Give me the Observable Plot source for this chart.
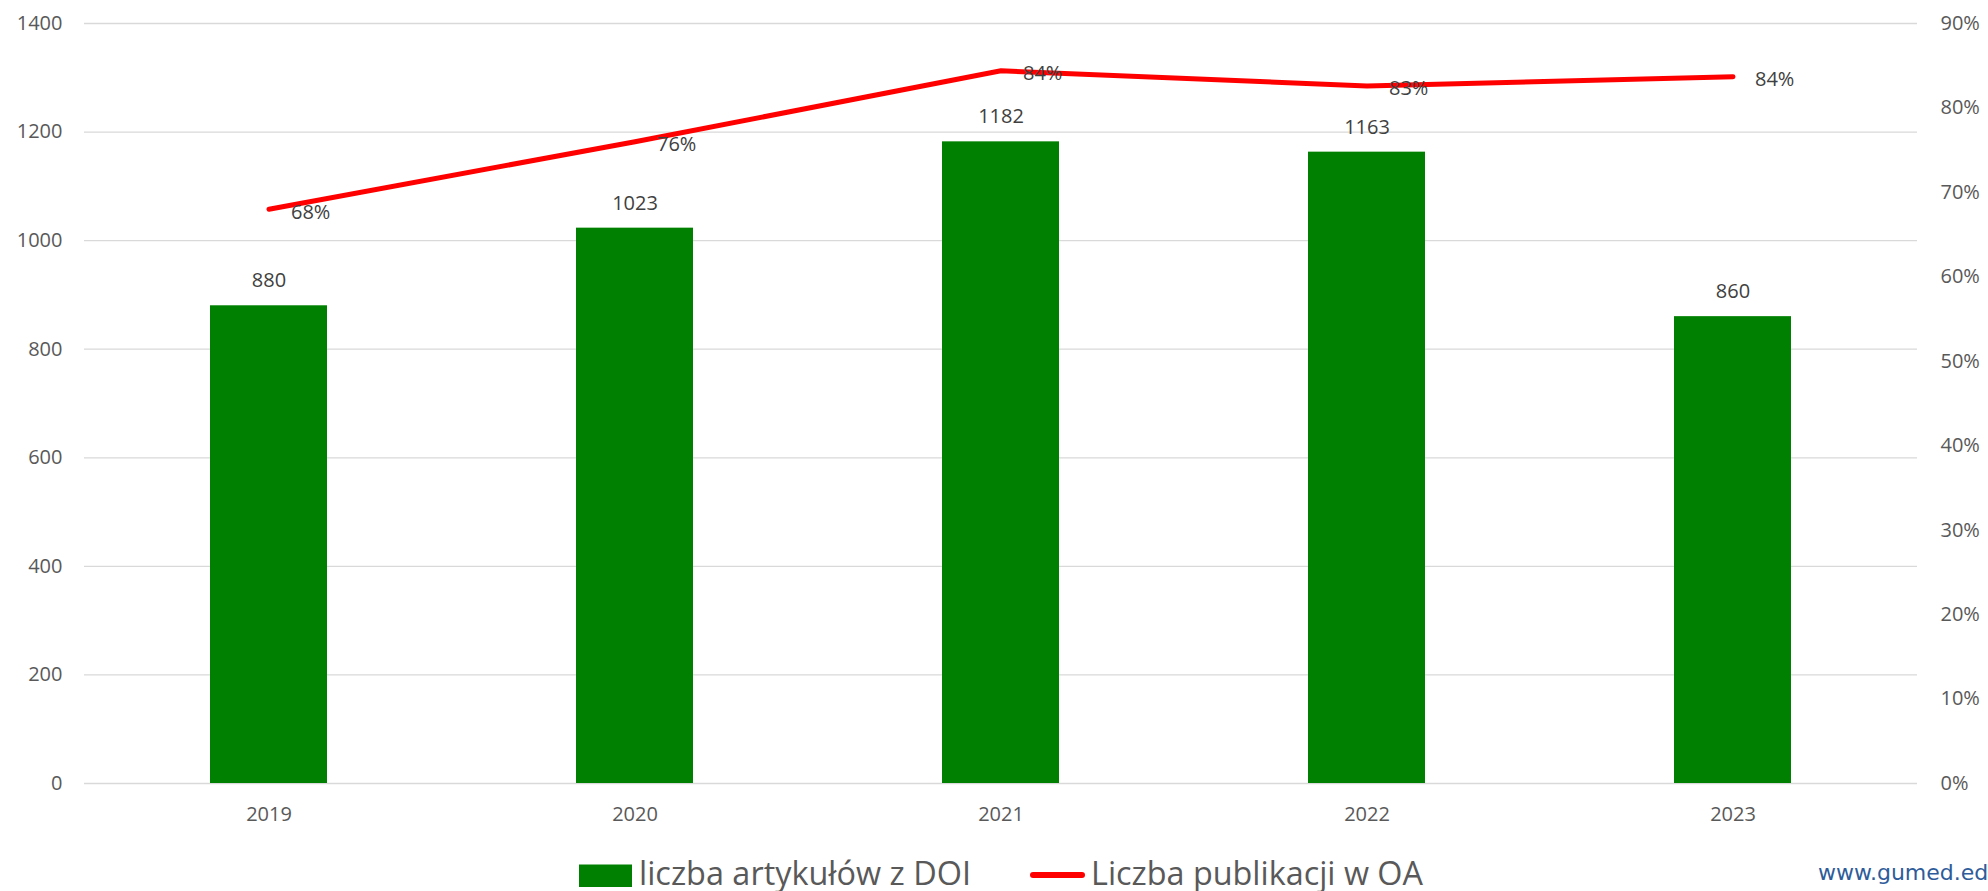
<!DOCTYPE html>
<html>
<head>
<meta charset="utf-8">
<script src="https://cdn.jsdelivr.net/npm/d3@7"></script>
<script src="https://cdn.jsdelivr.net/npm/@observablehq/plot@0.6"></script>
<style>
  html, body { margin: 0; padding: 0; background: #fff; overflow: hidden; }
  #wrap { position: relative; width: 1988px; height: 891px; overflow: hidden; background: #fff; }
  #legend { position: absolute; left: 0; top: 845px; overflow: visible; }
  #brand { position: absolute; left: 1818px; top: 860px; font-family: "DejaVu Sans", sans-serif; font-size: 22px; color: #2e5c9a; white-space: nowrap; }
</style>
</head>
<body>
<div id="wrap">
  <div id="chart"></div>
  <svg id="legend" width="1988" height="46" font-family="Open Sans, sans-serif">
    <rect x="579" y="19.5" width="53" height="22.5" fill="#008000"></rect>
    <text x="639" y="40" font-size="33" fill="#595959" textLength="332" lengthAdjust="spacingAndGlyphs">liczba artykułów z DOI</text>
    <line x1="1033" x2="1082" y1="30" y2="30" stroke="#ff0000" stroke-width="6" stroke-linecap="round"></line>
    <text x="1091" y="40" font-size="33" fill="#595959" textLength="332" lengthAdjust="spacingAndGlyphs">Liczba publikacji w OA</text>
  </svg>
  <div id="brand">www.gumed.edu.pl</div>
</div>
<script>
const years = ["2019", "2020", "2021", "2022", "2023"];
const articles = [880, 1023, 1182, 1163, 860];
const oaShare = [0.68, 0.76, 0.844, 0.826, 0.837];
const leftTicks = [0, 200, 400, 600, 800, 1000, 1200, 1400];
const rightTicks = [0, 0.1, 0.2, 0.3, 0.4, 0.5, 0.6, 0.7, 0.8, 0.9];

const countMax = 1400;
const pctMax = 0.9;
const pctToCount = p => p * countMax / pctMax;

const data = years.map((year, i) => ({year, articles: articles[i], oa: oaShare[i]}));

const chart = Plot.plot({
  width: 1988,
  height: 845,
  marginTop: 23,
  marginBottom: 62,
  marginLeft: 84,
  marginRight: 71,
  style: {fontFamily: "Open Sans, sans-serif", fontSize: "20px", color: "#595959", background: "#fff"},
  x: {domain: years, paddingInner: 0.68, paddingOuter: 0.34, label: null},
  y: {domain: [0, countMax], label: null},
  marks: [
    Plot.ruleY(leftTicks, {stroke: "#d9d9d9", strokeWidth: 1.3}),
    Plot.barY(data, {x: "year", y: "articles", fill: "#008000"}),
    Plot.line(data, {x: "year", y: d => pctToCount(d.oa), stroke: "#ff0000", strokeWidth: 5, strokeLinecap: "round", strokeLinejoin: "round"}),
    Plot.text(data, {x: "year", y: "articles", text: d => String(d.articles), dy: -25, fill: "#404040", fontSize: 20}),
    Plot.text(data, {x: "year", y: d => pctToCount(d.oa), text: d => Math.round(d.oa * 100) + "%", dx: 22, dy: 3, textAnchor: "start", fill: "#404040", fontSize: 20}),
    Plot.axisY(leftTicks, {anchor: "left", tickSize: 0, tickPadding: 22, fill: "#595959", fontSize: 20, label: null, tickFormat: d => String(d)}),
    Plot.axisY(rightTicks.map(pctToCount), {anchor: "right", tickSize: 0, tickPadding: 23, fill: "#595959", fontSize: 20, label: null,
      tickFormat: v => Math.round(v * pctMax / countMax * 100) + "%"}),
    Plot.axisX({tickSize: 0, tickPadding: 23, fill: "#595959", fontSize: 20, label: null})
  ]
});
document.getElementById("chart").appendChild(chart);
</script>
</body>
</html>
